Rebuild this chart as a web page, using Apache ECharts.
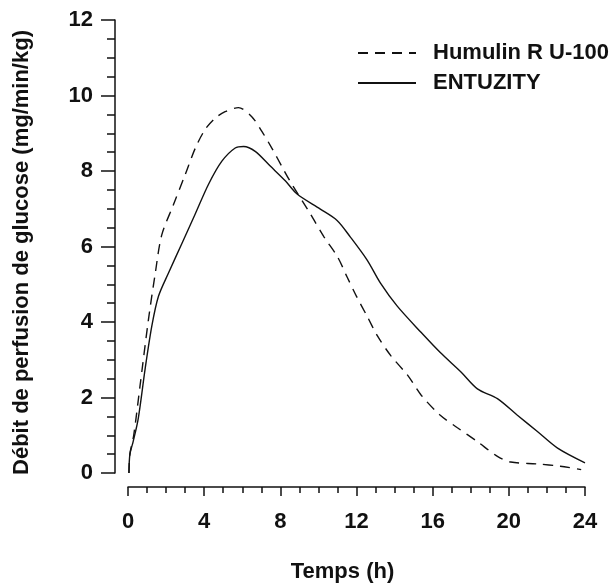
<!DOCTYPE html>
<html>
<head>
<meta charset="utf-8">
<script src="https://cdn.jsdelivr.net/npm/echarts@6/dist/echarts.min.js"></script>
<style>html,body{margin:0;padding:0;background:#fff}#c{width:611px;height:588px}</style>
</head>
<body>
<div id="c"></div>
<script>
const seriesNames = ['Humulin R U-100', 'ENTUZITY'];
const humulinTime = [0.05, 0.1, 0.3, 0.63, 1.07, 1.42, 1.77, 2.38, 3.0, 3.53, 4.05, 4.58, 5.1, 5.8, 6.5, 7.03, 7.56, 8.1, 8.5, 9.58, 10.3, 11.0, 11.5, 12.0, 12.56, 13.1, 13.8, 14.7, 15.4, 16.4, 17.3, 18.35, 19.4, 20.1, 21.5, 22.7, 23.8];
const humulinValue = [0, 0.5, 1.0, 2.3, 4.05, 5.25, 6.3, 7.1, 7.9, 8.6, 9.1, 9.4, 9.57, 9.68, 9.44, 9.05, 8.6, 8.1, 7.74, 6.86, 6.25, 5.73, 5.2, 4.68, 4.15, 3.63, 3.11, 2.58, 2.06, 1.53, 1.2, 0.83, 0.44, 0.29, 0.24, 0.18, 0.09];
const entuzityTime = [0.05, 0.1, 0.27, 0.54, 0.9, 1.25, 1.6, 2.12, 2.83, 3.53, 4.23, 4.93, 5.63, 6.07, 6.68, 7.47, 8.26, 8.88, 10.1, 10.98, 11.68, 12.56, 13.26, 14.14, 15.4, 16.4, 17.5, 18.35, 19.4, 20.45, 21.5, 22.56, 24.0];
const entuzityValue = [0, 0.5, 0.83, 1.45, 2.76, 3.89, 4.68, 5.29, 6.08, 6.86, 7.65, 8.26, 8.61, 8.65, 8.52, 8.13, 7.74, 7.39, 6.99, 6.69, 6.25, 5.64, 5.03, 4.42, 3.72, 3.19, 2.67, 2.23, 1.97, 1.53, 1.1, 0.66, 0.27];
const xTicks = [0, 4, 8, 12, 16, 20, 24];
const yTicks = [0, 2, 4, 6, 8, 10, 12];
const xTitle = 'Temps (h)';
const yTitle = 'Débit de perfusion de glucose (mg/min/kg)';

const pair = (t, v) => t.map((x, i) => [x, v[i]]);
const FONT = "'Liberation Sans', Arial, sans-serif";
const INK = '#111';

const chart = echarts.init(document.getElementById('c'), null, {renderer: 'canvas'});
chart.setOption({
  animation: false,
  backgroundColor: '#fff',
  grid: {left: 128, right: 26, top: 20, bottom: 110},
  legend: {
    left: 352, top: 37, orient: 'vertical', itemWidth: 58, itemHeight: 14, itemGap: 8,
    itemStyle: {opacity: 0},
    lineStyle: {opacity: 1},
    textStyle: {fontFamily: FONT, fontWeight: 'bold', fontSize: 22, color: INK, padding: [0, 0, 0, 12]},
    data: seriesNames
  },
  xAxis: {
    type: 'value', min: xTicks[0], max: xTicks[xTicks.length - 1], interval: 4, offset: 14,
    name: xTitle, nameLocation: 'middle', nameGap: 74,
    nameTextStyle: {fontFamily: FONT, fontWeight: 'bold', fontSize: 22, color: INK, padding: [0, 28, 0, 0]},
    axisLine: {show: true, onZero: false, lineStyle: {color: INK, width: 1.5}},
    axisTick: {show: true, inside: false, length: 9, lineStyle: {color: INK, width: 1.5}},
    minorTick: {show: true, splitNumber: 4, length: 6, lineStyle: {color: INK, width: 1.5}},
    splitLine: {show: false},
    axisLabel: {margin: 24, fontFamily: FONT, fontWeight: 'bold', fontSize: 22, color: INK,
      formatter: v => xTicks.includes(v) ? String(v) : ''}
  },
  yAxis: {
    type: 'value', min: yTicks[0], max: yTicks[yTicks.length - 1], interval: 2, offset: 13,
    name: yTitle, nameLocation: 'middle', nameGap: 82, nameRotate: 90,
    nameTextStyle: {fontFamily: FONT, fontWeight: 'bold', fontSize: 22, color: INK, padding: [0, 12, 0, 0]},
    axisLine: {show: true, onZero: false, lineStyle: {color: INK, width: 1.5}},
    axisTick: {show: true, inside: false, length: 14, lineStyle: {color: INK, width: 1.5}},
    minorTick: {show: true, splitNumber: 4, length: 8, lineStyle: {color: INK, width: 1.5}},
    splitLine: {show: false},
    axisLabel: {margin: 22, fontFamily: FONT, fontWeight: 'bold', fontSize: 22, color: INK,
      formatter: v => yTicks.includes(v) ? String(v) : ''}
  },
  series: [
    {name: seriesNames[0], type: 'line', data: pair(humulinTime, humulinValue), smooth: 0.3,
     symbol: 'none', lineStyle: {color: INK, width: 1.4, type: [10, 7]}, itemStyle: {color: INK}},
    {name: seriesNames[1], type: 'line', data: pair(entuzityTime, entuzityValue), smooth: 0.3,
     symbol: 'none', lineStyle: {color: INK, width: 1.4, type: 'solid'}, itemStyle: {color: INK}}
  ]
});
</script>
</body>
</html>
